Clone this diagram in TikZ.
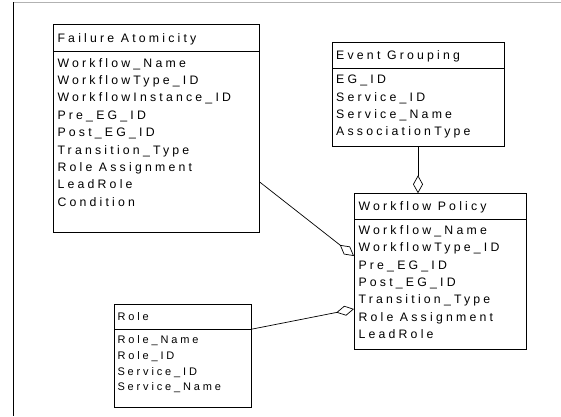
\documentclass[tikz,border=0pt]{standalone}
\usepackage{fontspec}
\setmainfont{Liberation Sans}[LetterSpace=26]
\usetikzlibrary{arrows.meta}

\tikzset{
  cls/.style={draw=black, line width=0.9pt, rectangle, anchor=north west, inner sep=0pt, outer sep=0pt},
  big/.style={font=\fontsize{12.3}{14}\selectfont, inner sep=0pt, anchor=base west},
  small/.style={font=\fontsize{11}{12}\selectfont, inner sep=0pt, anchor=base west},
  agg/.style={draw=black, line width=0.7pt, -{Diamond[open,length=18pt,width=10pt,line width=0.7pt]}},
  divider/.style={draw=black, line width=0.9pt},
}

\begin{document}
\begin{tikzpicture}[x=1pt,y=-1pt]
\useasboundingbox (0,0) rectangle (561,416);
\draw[gray!60, line width=1pt] (13,2) -- (561,2);
\draw[line width=0.9pt] (13,2) -- (13,416);

% Failure Atomicity
\node[cls, minimum width=206.3pt, minimum height=208.7pt] (FA) at (53,24) {};
\draw[divider] ([yshift=-27.7pt]FA.north west) -- ([yshift=-27.7pt]FA.north east);
\node[big] (FAt) at (57.3,42.5) {Failure Atomicity};
\foreach \t [count=\i from 0] in {Workflow\_Name, WorkflowType\_ID, WorkflowInstance\_ID, Pre\_EG\_ID, Post\_EG\_ID, Transition\_Type, Role Assignment, LeadRole, Condition}
  \node[big] (FA\i) at (57.3,{67+\i*17.4}) {\t};

% Event Grouping
\node[cls, minimum width=172pt, minimum height=104pt] (EG) at (332,42.7) {};
\draw[divider] ([yshift=-26pt]EG.north west) -- ([yshift=-26pt]EG.north east);
\node[big] (EGt) at (336,59.3) {Event Grouping};
\foreach \t [count=\i from 0] in {EG\_ID, Service\_ID, Service\_Name, AssociationType}
  \node[big] (EG\i) at (336,{83.6+\i*17.45}) {\t};

% Workflow Policy
\node[cls, minimum width=172pt, minimum height=156pt] (WP) at (354,193.3) {};
\draw[divider] ([yshift=-26pt]WP.north west) -- ([yshift=-26pt]WP.north east);
\node[big] (WPt) at (358.3,210.3) {Workflow Policy};
\foreach \t [count=\i from 0] in {Workflow\_Name, WorkflowType\_ID, Pre\_EG\_ID, Post\_EG\_ID, Transition\_Type, Role Assignment, LeadRole}
  \node[big] (WP\i) at (358.3,{234.3+\i*17.35}) {\t};

% Role
\node[cls, minimum width=137pt, minimum height=103.7pt] (Role) at (114,304) {};
\draw[divider] ([yshift=-25.3pt]Role.north west) -- ([yshift=-25.3pt]Role.north east);
\node[small] (Rolet) at (117.3,320.6) {Role};
\foreach \t [count=\i from 0] in {Role\_Name, Role\_ID, Service\_ID, Service\_Name}
  \node[small] (Role\i) at (117.3,{343.8+\i*15.6}) {\t};

% connectors
\draw[agg] ([yshift=-53.35pt]FA.east) -- ([yshift=15.3pt]WP.west);
\draw[agg] ([yshift=26.55pt]Role.east) -- ([yshift=-37.7pt]WP.west);
\draw[agg] (EG.south) -- (EG.south |- WP.north);
\end{tikzpicture}
\end{document}
